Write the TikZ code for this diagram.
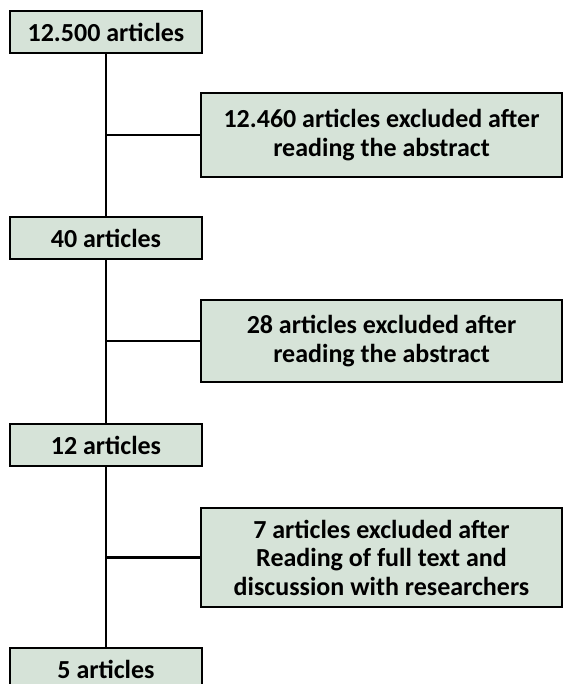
\documentclass[tikz,border=0pt]{standalone}
\usepackage{fontspec}
\setmainfont{Carlito}
\definecolor{boxfill}{RGB}{214,227,216}
\begin{document}
\begin{tikzpicture}[x=1pt,y=-1pt,
  box/.style={draw=black, line width=2.5pt, fill=boxfill, minimum width=192pt,
    minimum height=42pt, inner sep=0pt, align=center,
    font=\bfseries\fontsize{26}{28.5}\selectfont},
  sidebox/.style={box, minimum width=361pt},
  link/.style={line width=2.2pt, line cap=rect}]
\useasboundingbox (0,0) rectangle (564,684);
\clip (0,0) rectangle (564,684);
% main boxes
\node[box] (b1) at (106,32) {12.500 articles};
\node[box] (b2) at (106,238) {40 articles};
\node[box] (b3) at (106,445) {12 articles};
\node[box] (b4) at (106,669) {5 articles};
% side boxes
\node[sidebox, minimum height=84pt] (s1) at (381.5,135) {12.460 articles excluded after\\reading the abstract};
\node[sidebox, minimum height=82pt] (s2) at (381.5,341) {28 articles excluded after\\reading the abstract};
\node[sidebox, minimum height=99pt] (s3) at (381.5,557.5) {7 articles excluded after\\Reading of full text and\\discussion with researchers};
% junctions
\coordinate (j1) at (106,135);
\coordinate (j2) at (106,341);
\coordinate (j3) at (106,557.5);
% connectors
\draw[link] (b1.south) -- (b2.north);
\draw[link] (b2.south) -- (b3.north);
\draw[link] (b3.south) -- (b4.north);
\draw[link] (j1) -- (s1.west);
\draw[link] (j2) -- (s2.west);
\draw[link] (j3) -- (s3.west);
\end{tikzpicture}
\end{document}
